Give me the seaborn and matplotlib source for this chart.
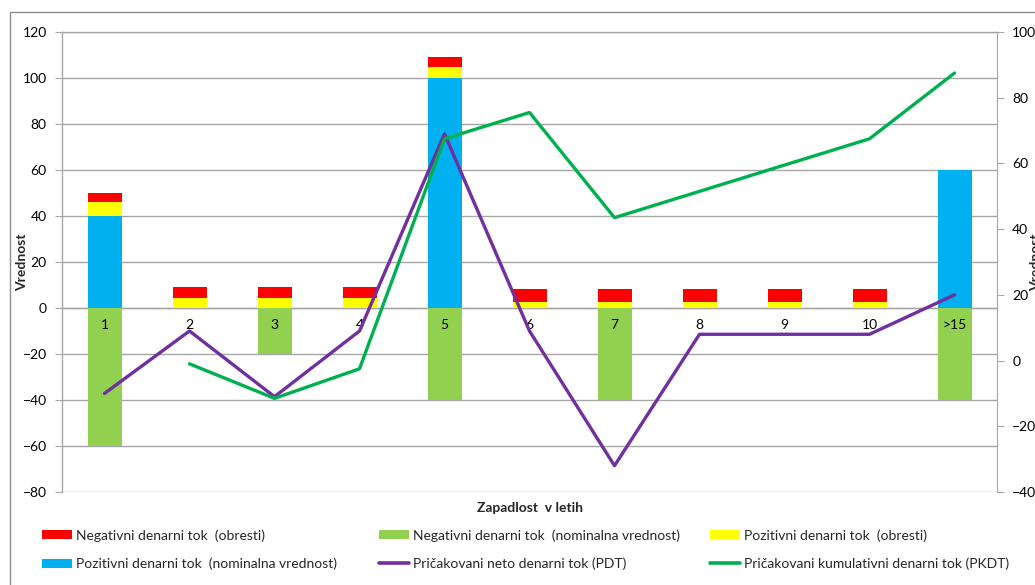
import numpy as np
import pandas as pd
import matplotlib
matplotlib.use("Agg")
import matplotlib.pyplot as plt
import matplotlib.patches as mpatches
from matplotlib.lines import Line2D
import seaborn as sns

# ---- data ----
categories = ["1", "2", "3", "4", "5", "6", "7", "8", "9", "10", ">15"]
poz_nominal = [40, 0, 0, 0, 100, 0, 0, 0, 0, 0, 60]
poz_obresti = [6, 4.5, 4.5, 4.5, 4.8, 2.7, 2.7, 2.7, 2.7, 2.7, 0]
neg_obresti = [4, 4.8, 4.8, 4.8, 4.3, 5.5, 5.5, 5.5, 5.5, 5.5, 0]
neg_nominal = [-60, 0, -20, 0, -40, 0, -40, 0, 0, 0, -40]
pdt = [-10, 9, -11, 9, 69, 9, -32, 8, 8, 8, 20]
pkdt = [np.nan, -1, -11.5, -2.5, 67.5, 75.5, 43.5, 51.5, 59.5, 67.5, 87.5]

left_ticks = list(range(-80, 121, 20))
right_ticks = list(range(-40, 101, 20))

labels = {
    "neg_ob": "Negativni denarni tok  (obresti)",
    "neg_nom": "Negativni denarni tok  (nominalna vrednost)",
    "poz_ob": "Pozitivni denarni tok  (obresti)",
    "poz_nom": "Pozitivni denarni tok  (nominalna vrednost)",
    "pdt": "Pričakovani neto denarni tok (PDT)",
    "pkdt": "Pričakovani kumulativni denarni tok (PKDT)",
}

C_RED = "#FF0000"
C_YEL = "#FFFF00"
C_GRN = "#92D050"
C_BLU = "#00B0F0"
C_PUR = "#7030A0"
C_LGR = "#00B050"
GRID = "#A6A6A6"
FS = 10

sns.set_style("white")
plt.rcParams["font.family"] = ["Lato", "DejaVu Sans"]
plt.rcParams["font.size"] = FS
plt.rcParams["axes.axisbelow"] = False

df = pd.DataFrame({
    "cat": categories,
    "blue": poz_nominal,
    "yellow": np.array(poz_nominal) + np.array(poz_obresti),
    "red": np.array(poz_nominal) + np.array(poz_obresti) + np.array(neg_obresti),
    "green": neg_nominal,
})

W, H = 1035, 585
fig = plt.figure(figsize=(W / 100, H / 100), dpi=100)
ax = fig.add_axes([62 / W, (H - 492) / H, (997 - 62) / W, (492 - 32) / H])

for col, c in [("red", C_RED), ("yellow", C_YEL), ("blue", C_BLU), ("green", C_GRN)]:
    sns.barplot(data=df, x="cat", y=col, order=categories, color=c, width=0.4,
                saturation=1, linewidth=0, ax=ax, errorbar=None)

ax.set_axisbelow(False)
ax.set_ylim(-80, 120)
ax.set_yticks(left_ticks)
ax.set_xlim(-0.5, len(categories) - 0.5)
ax.grid(False)
for t in left_ticks:
    ax.axhline(t, color=GRID, lw=1, zorder=0.5)
ax.set_xlabel("")
ax.set_ylabel("")

for s in ["left", "top", "bottom"]:
    ax.spines[s].set_visible(True)
    ax.spines[s].set_color(GRID)
    ax.spines[s].set_linewidth(1)
ax.spines["right"].set_visible(False)
ax.spines["bottom"].set_position(("data", 0))
ax.spines["bottom"].set_zorder(0.6)

ax.set_xticks(range(len(categories)))
ax.set_xticklabels(categories)
ax.set_xticks(np.arange(0.5, len(categories) - 1, 1), minor=True)
ax.tick_params(axis="x", which="major", length=0, pad=8, labelsize=FS, colors="black")
ax.tick_params(axis="x", which="minor", length=4, color=GRID, direction="out")
ax.tick_params(axis="y", which="major", length=5, color=GRID, direction="out",
               pad=6, labelsize=FS, labelcolor="black", left=True)

ax2 = ax.twinx()
xpos = np.arange(len(categories))
sns.lineplot(x=xpos, y=pdt, ax=ax2, color=C_PUR, lw=2.4, legend=False)
sns.lineplot(x=xpos, y=pkdt, ax=ax2, color=C_LGR, lw=2.4, legend=False)
ax2.set_ylim(-40, 100)
ax2.set_yticks(right_ticks)
ax2.grid(False)
ax2.set_ylabel("")
for s in ["left", "bottom", "top"]:
    ax2.spines[s].set_visible(False)
ax2.spines["right"].set_visible(True)
ax2.spines["right"].set_color(GRID)
ax2.tick_params(axis="y", which="major", length=5, color=GRID, direction="out",
                pad=6, labelsize=FS, labelcolor="black", right=True)
ax.set_xlim(-0.5, len(categories) - 0.5)

# labels
fig.text(22 / W, 1 - 262 / H, "Vrednost", rotation=90, ha="center", va="center",
         fontweight="bold", fontsize=FS)
fig.text(1036 / W, 1 - 262 / H, "Vrednost", rotation=90, ha="center", va="center",
         fontweight="bold", fontsize=FS)
fig.text(530 / W, 1 - 508 / H, "Zapadlost  v letih", ha="center", va="center",
         fontweight="bold", fontsize=FS)

# outer border
fig.add_artist(mpatches.Rectangle((10 / W, -0.02), 1.1, 1 - 12 / H + 0.02,
                                  transform=fig.transFigure, fill=False,
                                  edgecolor="#8C8C8C", lw=1))

def ph(c):
    return mpatches.Patch(facecolor=c, edgecolor="none")

def lh(c):
    return Line2D([0], [0], color=c, lw=2.6)

cols = [
    (42, [ph(C_RED), ph(C_BLU)], [labels["neg_ob"], labels["poz_nom"]]),
    (379, [ph(C_GRN), lh(C_PUR)], [labels["neg_nom"], labels["pdt"]]),
    (710, [ph(C_YEL), lh(C_LGR)], [labels["poz_ob"], labels["pkdt"]]),
]
for x0, hs, ls in cols:
    fig.legend(hs, ls, loc="upper left", bbox_to_anchor=(x0 / W, 1 - 529 / H),
               frameon=False, handlelength=2.15, handleheight=0.6,
               handletextpad=0.3, labelspacing=1.15, borderpad=0, borderaxespad=0,
               fontsize=FS)

fig.savefig("out.png", dpi=100)
